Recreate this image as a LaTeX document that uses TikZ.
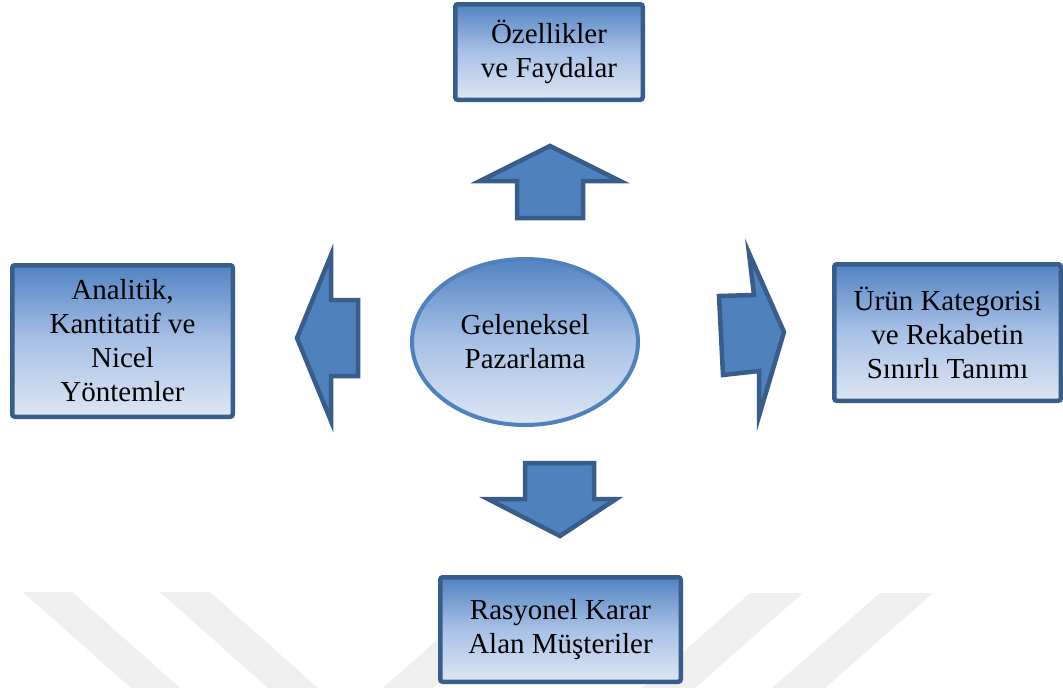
\documentclass[tikz,border=0pt]{standalone}
\usepackage{fontspec}
\setmainfont{Liberation Serif}
\usetikzlibrary{shapes.geometric}

\definecolor{boxline}{HTML}{385D8A}
\definecolor{accent}{HTML}{4F81BD}
\definecolor{gradtop}{HTML}{5283C3}
\definecolor{gradmid}{HTML}{A9C1E6}
\definecolor{gradbot}{HTML}{DDE6F4}
\definecolor{wmark}{HTML}{EFEFEF}

\tikzset{
  label font/.style={font=\fontsize{29}{34}\selectfont},
  infobox/.style={draw=boxline, line width=4.5pt, rounded corners=2.5pt,
    top color=gradtop, bottom color=gradbot, middle color=gradmid,
    align=center, inner sep=0pt, label font},
  hub/.style={ellipse, draw=accent, line width=4pt,
    top color=gradtop, bottom color=gradbot, middle color=gradmid,
    align=center, inner sep=0pt, label font},
  blockarrow/.style={fill=accent, draw=boxline, line width=4.5pt, line join=miter},
  stripe/.style={fill=wmark, draw=none}
}

\begin{document}
\begin{tikzpicture}[x=1pt, y=-1pt]
  \useasboundingbox (0,0) rectangle (1063,688);

  % faint background stripes along the bottom edge
  \fill[stripe] (23,592) -- (72,592) -- (180,688) -- (131,688) -- cycle;
  \fill[stripe] (160,592) -- (210,592) -- (318,688) -- (268,688) -- cycle;
  \fill[stripe] (491,592) -- (541,592) -- (433,688) -- (383,688) -- cycle;
  \fill[stripe] (750,593) -- (803,593) -- (695,688) -- (642,688) -- cycle;
  \fill[stripe] (880,593) -- (933,593) -- (825,688) -- (772,688) -- cycle;

  % central concept
  \node[hub, minimum width=226pt, minimum height=166pt] (center) at (525,342)
    {Geleneksel\\Pazarlama};

  % surrounding boxes
  \node[infobox, minimum width=187.5pt, minimum height=95.5pt] (top) at (549,52)
    {Özellikler\\ve Faydalar};
  \node[infobox, minimum width=220.5pt, minimum height=151.5pt] (left) at (122.5,341)
    {Analitik,\\Kantitatif ve\\Nicel\\Yöntemler};
  \node[infobox, minimum width=226.5pt, minimum height=136.5pt] (right) at (947.5,332.5)
    {Ürün Kategorisi\\ve Rekabetin\\Sınırlı Tanımı};
  \node[infobox, minimum width=240.5pt, minimum height=104.5pt] (bottom) at (560.5,629.5)
    {Rasyonel Karar\\Alan Müşteriler};

  % block arrows pointing outwards from the centre
  \draw[blockarrow] (517,218) -- (517,181) -- (480,181) -- (550,146)
    -- (620,181) -- (583,181) -- (583,218) -- cycle;
  \draw[blockarrow] (358,300) -- (331,300) -- (331,255) -- (297,338)
    -- (331,421) -- (331,376) -- (358,376) -- cycle;
  \draw[blockarrow] (719,296) -- (754,295) -- (749,253) -- (784,332)
    -- (759,416) -- (759,371) -- (723,375) -- cycle;
  \draw[blockarrow] (525,463) -- (594,463) -- (594,499) -- (616,499)
    -- (560,536) -- (488,499) -- (525,499) -- cycle;
\end{tikzpicture}
\end{document}
